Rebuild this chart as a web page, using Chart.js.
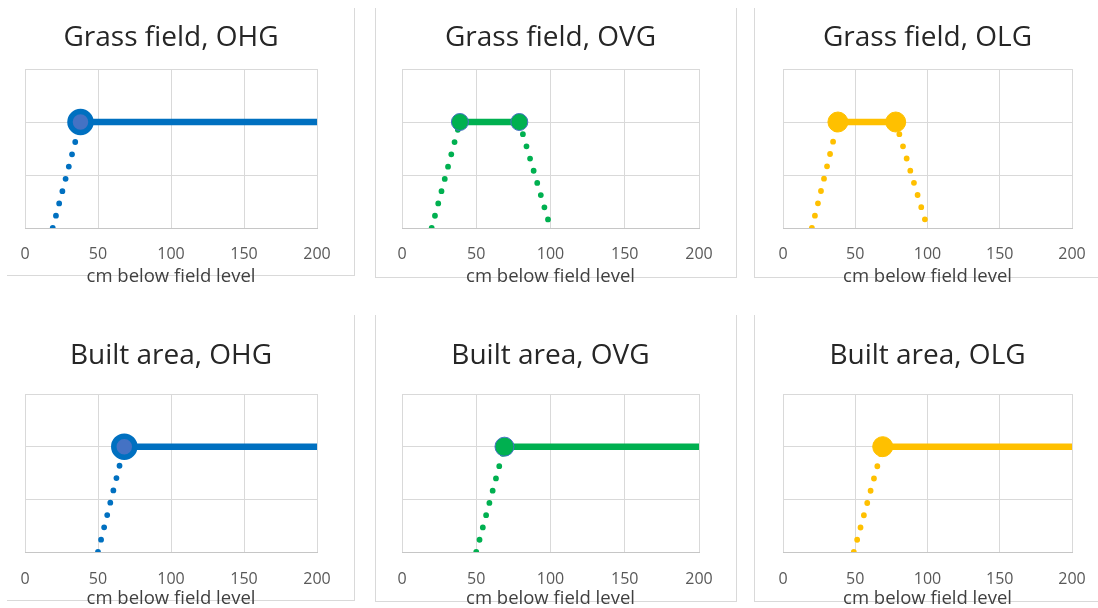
<!DOCTYPE html>
<html><head><meta charset="utf-8">
<script src="https://cdn.jsdelivr.net/npm/chart.js@4.4.1/dist/chart.umd.min.js"></script>
<style>
html,body{margin:0;padding:0;background:#fff;width:1098px;height:608px;overflow:hidden;}
body{position:relative;}
.frame{position:absolute;border:0 solid #d9d9d9;box-sizing:border-box;}
canvas{position:absolute;}
</style></head><body>
<div class="frame" style="left:7px;top:8px;width:348px;height:268px;border-right-width:1px;border-bottom-width:1px;"></div>
<div class="frame" style="left:375px;top:8px;width:362px;height:270px;border-left-width:1px;border-right-width:1px;border-bottom-width:1px;"></div>
<div class="frame" style="left:754px;top:8px;width:344px;height:270px;border-left-width:1px;border-bottom-width:1px;"></div>
<div class="frame" style="left:7px;top:315px;width:348px;height:286px;border-right-width:1px;border-bottom-width:1px;"></div>
<div class="frame" style="left:375px;top:315px;width:362px;height:287px;border-left-width:1px;border-right-width:1px;border-bottom-width:1px;"></div>
<div class="frame" style="left:754px;top:315px;width:344px;height:287px;border-left-width:1px;border-bottom-width:1px;"></div>
<script>
// ---- data ----
const depthTicks = [0, 50, 100, 150, 200];
const levelTicks = [0, 1, 2, 3];
const panelTitles = ['Grass field, OHG', 'Grass field, OVG', 'Grass field, OLG',
                     'Built area, OHG', 'Built area, OVG', 'Built area, OLG'];
const xAxisTitle = 'cm below field level';

const grassOHGSolid = [[38, 2], [200, 2]];
const grassOHGDotted = [[19, 0], [38, 2]];
const grassOVGSolid = [[39, 2], [79, 2]];
const grassOVGDottedLeft = [[20, 0], [39, 2]];
const grassOVGDottedRight = [[79, 2], [100, 0]];
const grassOLGSolid = [[38, 2], [78, 2]];
const grassOLGDottedLeft = [[20, 0], [38, 2]];
const grassOLGDottedRight = [[78, 2], [100, 0]];
const builtOHGSolid = [[68, 2], [200, 2]];
const builtOHGDotted = [[50, 0], [68, 2]];
const builtOVGSolid = [[69, 2], [200, 2]];
const builtOVGDotted = [[50, 0], [69, 2]];
const builtOLGSolid = [[69, 2], [200, 2]];
const builtOLGDotted = [[49, 0], [69, 2]];

// ---- styles ----
const BLUE = '#0070C0', GREEN = '#00B050', YELLOW = '#FFC000';
const markers = {
  ohg: {r: 10.5, fill: '#4472C4', stroke: BLUE, bw: 5.5},
  ovgTop: {r: 8.5, fill: GREEN, stroke: '#4472C4', bw: 1},
  ovgBot: {r: 9.5, fill: GREEN, stroke: '#4472C4', bw: 1},
  olg: {r: 10, fill: YELLOW, stroke: YELLOW, bw: 1}
};
const rows = [
  {top: 0, h: 300, titlePadTop: 21, titlePadBottom: 14.4, axisH: 72, tickPad: 16.4, axTitlePadBottom: 12.6},
  {top: 300, h: 311, titlePadTop: 39.6, titlePadBottom: 20.8, axisH: 59, tickPad: 17.4, axTitlePadBottom: 1.4}
];
const cols = [
  {left: 0, w: 355, padL: 25, padR: 38},
  {left: 376, w: 360, padL: 26, padR: 37},
  {left: 754, w: 344, padL: 29, padR: 26}
];

const panels = [
  {title: panelTitles[0], row: 0, col: 0, color: BLUE, m: markers.ohg, solid: grassOHGSolid, dotted: [grassOHGDotted]},
  {title: panelTitles[1], row: 0, col: 1, color: GREEN, m: markers.ovgTop, solid: grassOVGSolid, dotted: [grassOVGDottedLeft, grassOVGDottedRight]},
  {title: panelTitles[2], row: 0, col: 2, color: YELLOW, m: markers.olg, solid: grassOLGSolid, dotted: [grassOLGDottedLeft, grassOLGDottedRight]},
  {title: panelTitles[3], row: 1, col: 0, color: BLUE, m: markers.ohg, solid: builtOHGSolid, dotted: [builtOHGDotted]},
  {title: panelTitles[4], row: 1, col: 1, color: GREEN, m: markers.ovgBot, solid: builtOVGSolid, dotted: [builtOVGDotted]},
  {title: panelTitles[5], row: 1, col: 2, color: YELLOW, m: markers.olg, solid: builtOLGSolid, dotted: [builtOLGDotted]}
];

const FONT = "'Open Sans', 'Noto Sans', sans-serif";
const xMax = depthTicks[depthTicks.length - 1];
const toPts = arr => arr.map(([x, y]) => ({x, y}));

panels.forEach(p => {
  const r = rows[p.row], c = cols[p.col];
  const cv = document.createElement('canvas');
  cv.width = c.w; cv.height = r.h;
  cv.style.left = c.left + 'px'; cv.style.top = r.top + 'px';
  cv.style.width = c.w + 'px'; cv.style.height = r.h + 'px';
  document.body.appendChild(cv);

  const datasets = [{
    data: toPts(p.solid),
    borderColor: p.color, borderWidth: 6.5, borderCapStyle: 'butt',
    pointRadius: ctx => (ctx.raw && ctx.raw.x < xMax) ? p.m.r : 0,
    pointBackgroundColor: p.m.fill, pointBorderColor: p.m.stroke, pointBorderWidth: p.m.bw,
    fill: false, tension: 0
  }].concat(p.dotted.map(d => ({
    data: toPts(d),
    borderColor: p.color, borderWidth: 5.8, borderDash: [0, 12.7], borderCapStyle: 'round',
    pointRadius: 0, fill: false, tension: 0
  })));

  new Chart(cv, {
    type: 'line',
    data: {datasets},
    options: {
      responsive: false, animation: false, events: [],
      layout: {padding: {left: c.padL, right: c.padR, top: 0, bottom: 0}},
      plugins: {
        legend: {display: false}, tooltip: {enabled: false},
        title: {display: true, text: p.title, color: '#262626',
                font: {family: FONT, size: 28, weight: 'normal'},
                padding: {top: r.titlePadTop, bottom: r.titlePadBottom}}
      },
      scales: {
        x: {type: 'linear', min: depthTicks[0], max: xMax,
            afterBuildTicks: s => { s.ticks = depthTicks.map(v => ({value: v})); },
            afterFit: s => { s.height = r.axisH; s.paddingLeft = 0; s.paddingRight = 0; },
            grid: {color: '#d9d9d9', drawTicks: false, lineWidth: 1},
            border: {display: true, color: '#c6c6c6', width: 1},
            ticks: {color: '#595959', padding: r.tickPad, font: {family: FONT, size: 16}, maxRotation: 0},
            title: {display: true, text: xAxisTitle, color: '#404040',
                    font: {family: FONT, size: 18.5}, padding: {top: 0, bottom: r.axTitlePadBottom}}},
        y: {type: 'linear', min: levelTicks[0], max: levelTicks[levelTicks.length - 1],
            afterBuildTicks: s => { s.ticks = levelTicks.map(v => ({value: v})); },
            grid: {color: '#d9d9d9', drawTicks: false, lineWidth: 1},
            border: {display: false},
            ticks: {display: false}}
      }
    }
  });
});
</script>
</body></html>
